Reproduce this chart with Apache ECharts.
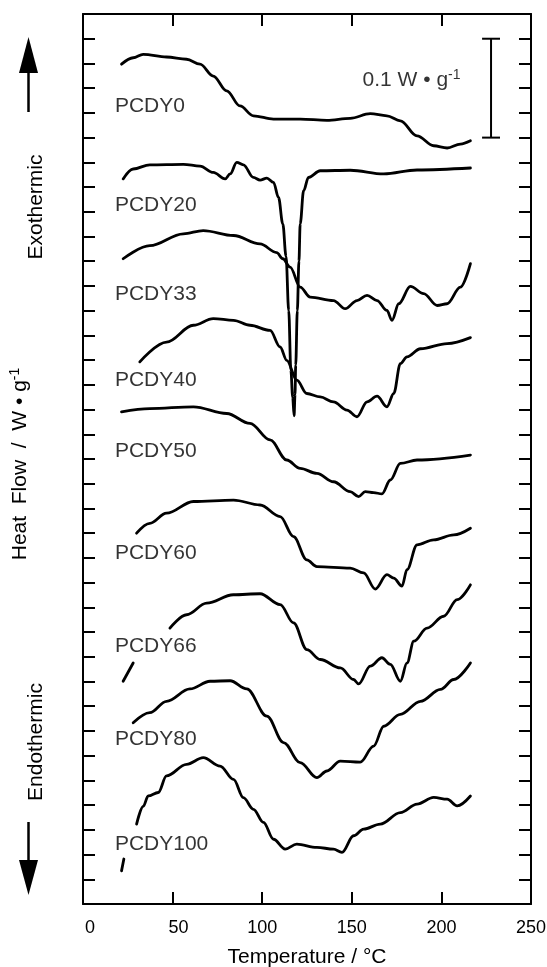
<!DOCTYPE html>
<html>
<head>
<meta charset="utf-8">
<script src="https://cdn.jsdelivr.net/npm/echarts@6/dist/echarts.min.js"></script>
<style>html,body{margin:0;padding:0;background:#fff}#c{width:547px;height:967px}</style>
</head>
<body>
<div id="c"></div>
<script>
// x ticks
const xTicks = [0, 50, 100, 150, 200, 250];
// curve names
const names = ['PCDY0','PCDY20','PCDY33','PCDY40','PCDY50','PCDY60','PCDY66','PCDY80','PCDY100'];
const labelT = [17.8,17.8,17.8,17.8,17.8,17.8,17.8,17.8,17.8];
const labelY = [32.28,28.25,24.68,21.19,18.33,14.19,10.42,6.66,2.42];

const pcdy0 = [[21.5,33.97],[28,34.23],[33.6,34.37],[46.6,34.26],[57.8,34.17],[65.3,33.97],[72.7,33.49],[80.2,32.89],[87.6,32.28],[95.1,31.88],[106.3,31.75],[121.2,31.75],[136.1,31.70],[149.1,31.78],[160.3,31.97],[169.6,31.88],[177.1,31.68],[186.4,31.07],[195.7,30.67],[203.2,30.58],[210.6,30.74],[216.2,30.87]];
const pcdy20 = [[22.4,29.33],[28,29.73],[37.3,29.9],[56,29.92],[65.3,29.85],[72.7,29.59],[79.3,29.33],[82.1,29.53],[85.8,30.0],[89.5,29.9],[95.1,29.39],[98.8,29.28],[102.6,29.36],[106.3,29.19],[109.1,28.58],[111.5,27.51],[113.3,26.2],[114.8,24.0],[116.0,21.59],[117.0,20.5],[117.8,19.75],[118.3,20.6],[118.7,21.8],[119.6,24.0],[120.5,26.0],[121.2,27.51],[123.1,28.85],[125.8,29.39],[132.4,29.66],[149.1,29.68],[167.8,29.53],[186.4,29.69],[216.2,29.77]];
const pcdy33 = [[22.4,26.10],[37.3,26.63],[56,27.11],[67.1,27.24],[84,27.04],[98.8,26.70],[108.1,26.35],[111.5,26.1],[115.6,25.76],[121.2,24.95],[126.8,24.55],[139.8,24.41],[146.3,24.08],[152.9,24.41],[158.5,24.62],[164.1,24.41],[169.6,24.01],[172.4,23.61],[176.2,24.28],[182.7,24.98],[190.1,24.69],[197.6,24.21],[203.2,24.28],[210.6,24.95],[216.2,25.90]];
const pcdy40 = [[31.7,21.93],[46.6,22.73],[61.6,23.41],[72.7,23.68],[84,23.61],[93.2,23.41],[104.4,23.20],[110,22.53],[113.7,21.99],[119.3,21.19],[124.9,20.65],[132.4,20.51],[139.8,20.31],[147.3,19.98],[152.9,19.71],[158.5,20.31],[164.1,20.54],[169.6,20.11],[173.4,20.65],[177.1,21.86],[180.8,22.13],[188.3,22.46],[203.2,22.67],[216.2,22.91]];
const pcdy50 = [[21.5,19.91],[37.3,20.04],[61.6,20.11],[80.2,19.84],[93.2,19.44],[104.4,18.77],[113.7,17.96],[121.2,17.62],[130.5,17.42],[139.8,17.08],[149.1,16.68],[153.8,16.48],[157.5,16.68],[162.2,16.64],[166.8,16.59],[171.5,17.15],[177.1,17.82],[186.4,17.96],[216.2,18.16]];
const pcdy60 = [[29.9,15.0],[37.3,15.40],[46.6,15.81],[61.6,16.28],[84,16.34],[98.8,16.14],[110,15.67],[117.5,14.86],[124.9,13.92],[130.5,13.65],[149.1,13.59],[156.6,13.39],[163.1,12.74],[169.6,13.32],[173.4,13.18],[178.0,12.86],[180.8,13.52],[186.4,14.53],[195.7,14.73],[206.9,14.93],[216.2,15.20]];
const pcdy66a = [[22.4,9.01],[28,9.75]];
const pcdy66 = [[48.5,11.16],[57.8,11.70],[69,12.17],[83.9,12.51],[98.8,12.55],[110,12.11],[117.5,11.37],[124.9,10.29],[132.4,9.89],[143.6,9.55],[151.0,9.08],[153.8,8.9],[160.3,9.62],[166.8,9.96],[171.5,9.69],[177.1,9.01],[180.8,9.75],[184.6,10.63],[192,11.16],[201.3,11.64],[208.8,12.31],[216.2,12.91]];
const pcdy80 = [[28,7.33],[37.3,7.74],[46.6,8.2],[59.7,8.7],[70.9,9.01],[82.1,9.03],[91.4,8.7],[102.6,7.60],[111.9,6.53],[121.2,5.72],[130.5,5.11],[136.1,5.38],[143.6,5.78],[154.7,5.74],[162.2,6.39],[167.8,7.19],[177.1,7.67],[188.3,8.20],[199.5,8.68],[206.9,9.08],[216.2,9.75]];
const pcdy100a = [[21.5,1.34],[22.8,1.82]];
const pcdy100 = [[29.9,3.23],[33.6,3.95],[36.4,4.37],[42.0,4.51],[46.6,5.18],[57.8,5.65],[67.1,5.92],[76.5,5.58],[84,5.04],[89.5,4.3],[95.1,3.83],[100.7,3.30],[106.3,2.62],[112.8,2.22],[119.3,2.42],[130.5,2.29],[139.8,2.22],[144.5,2.09],[151.0,2.76],[156.6,3.03],[165.9,3.23],[177.1,3.70],[186.4,4.04],[195.7,4.31],[203.2,4.24],[208.8,3.97],[216.2,4.37]];

// scale bar: 0.1 W/g = 4 y units
const scaleBarT = 227.7, scaleBarCap = 5, scaleBarLow = 31, scaleBarHigh = 35;
const scaleText = {t: 156, y: 33.32};

const FONT = 'Liberation Sans, Arial, Helvetica, sans-serif';
const chart = echarts.init(document.getElementById('c'), null, {renderer: 'canvas'});

const curves = [pcdy0, pcdy20, pcdy33, pcdy40, pcdy50, pcdy60, pcdy66a, pcdy66, pcdy80, pcdy100a, pcdy100];
const lineSeries = curves.map(d => ({
  type: 'line', data: d, showSymbol: false, symbol: 'none', smooth: 0.35, smoothMonotone: 'x',
  lineStyle: {color: '#000', width: 2.8, join: 'round', cap: 'round'}, z: 3, silent: true, animation: false
}));

const axisCommon = {
  min: 0, axisLine: {show: true, onZero: false, lineStyle: {color: '#000', width: 2}},
  axisTick: {show: true, inside: true, length: 12, lineStyle: {color: '#000', width: 2}},
  splitLine: {show: false}
};

chart.setOption({
  animation: false,
  grid: {left: 83, right: 16, top: 14, bottom: 63, containLabel: false, outerBoundsMode: 'none'},
  xAxis: [
    Object.assign({}, axisCommon, {
      type: 'value', position: 'bottom', max: 250, interval: 50,
      axisLabel: {
        show: true, margin: 15, color: '#000', fontSize: 18, fontFamily: FONT,
        formatter: v => v === 0 ? '{p0|0}' : (v === 50 ? '{p1|50}' : String(v)),
        rich: {p0: {fontSize: 18, fontFamily: FONT, padding: [0, 0, 0, 14]}, p1: {fontSize: 18, fontFamily: FONT, padding: [0, 0, 0, 12]}}
      },
      name: 'Temperature / °C', nameLocation: 'middle', nameGap: 43,
      nameTextStyle: {color: '#000', fontSize: 21, fontFamily: FONT}
    }),
    Object.assign({}, axisCommon, {
      type: 'value', position: 'top', max: 250, interval: 50, axisLabel: {show: false}
    })
  ],
  yAxis: [
    Object.assign({}, axisCommon, {type: 'value', position: 'left', max: 36, interval: 1, axisLabel: {show: false}}),
    Object.assign({}, axisCommon, {type: 'value', position: 'right', max: 36, interval: 1, axisLabel: {show: false}})
  ],
  graphic: [
    {type: 'polygon', shape: {points: [[28.5, 37], [19, 73], [38, 73]]}, style: {fill: '#000'}},
    {type: 'line', shape: {x1: 28.5, y1: 72, x2: 28.5, y2: 112}, style: {stroke: '#000', lineWidth: 2.5}},
    {type: 'polygon', shape: {points: [[19, 860], [38, 860], [28.5, 895]]}, style: {fill: '#000'}},
    {type: 'line', shape: {x1: 28.5, y1: 822, x2: 28.5, y2: 861}, style: {stroke: '#000', lineWidth: 2.5}},
    {type: 'text', x: 36, y: 207, rotation: Math.PI / 2,
      style: {text: 'Exothermic', fill: '#000', font: '21px ' + FONT, align: 'center', verticalAlign: 'middle'}},
    {type: 'text', x: 36, y: 742, rotation: Math.PI / 2,
      style: {text: 'Endothermic', fill: '#000', font: '21px ' + FONT, align: 'center', verticalAlign: 'middle'}},
    {type: 'text', x: 20, y: 464, rotation: Math.PI / 2,
      style: {text: 'Heat  Flow  /  W • g{sup|-1}', fill: '#000', fontSize: 21, fontFamily: FONT, align: 'center', verticalAlign: 'middle',
        rich: {sup: {fontSize: 14, fontFamily: FONT, fill: '#000', verticalAlign: 'top', padding: [0, 0, 10, 0]}}}}
  ],
  series: lineSeries.concat([
    {
      type: 'scatter', symbolSize: 0, silent: true, z: 4,
      data: names.map((n, i) => ({value: [labelT[i], labelY[i]], name: n})),
      label: {show: true, position: 'right', distance: 0, formatter: p => p.name, color: '#000', fontSize: 21, fontFamily: FONT}
    },
    {
      type: 'custom', silent: true, z: 4,
      data: [[scaleBarT, scaleBarLow, scaleBarHigh]],
      renderItem: (params, api) => {
        const lo = api.coord([api.value(0), api.value(1)]);
        const hi = api.coord([api.value(0), api.value(2)]);
        const capL = api.coord([api.value(0) - scaleBarCap, api.value(1)]);
        const st = {stroke: '#000', lineWidth: 2};
        const hw = lo[0] - capL[0];
        return {type: 'group', children: [
          {type: 'line', shape: {x1: lo[0], y1: lo[1], x2: hi[0], y2: hi[1]}, style: st},
          {type: 'line', shape: {x1: lo[0] - hw, y1: lo[1], x2: lo[0] + hw, y2: lo[1]}, style: st},
          {type: 'line', shape: {x1: hi[0] - hw, y1: hi[1], x2: hi[0] + hw, y2: hi[1]}, style: st}
        ]};
      }
    },
    {
      type: 'scatter', symbolSize: 0, silent: true, z: 4,
      data: [[scaleText.t, scaleText.y]],
      label: {show: true, position: 'right', distance: 0, formatter: '0.1 W • g{sup|-1}', color: '#000', fontSize: 21, fontFamily: FONT,
        rich: {sup: {fontSize: 14, fontFamily: FONT, color: '#000', verticalAlign: 'top', padding: [0, 0, 10, 0]}}}
    }
  ])
});
</script>
</body>
</html>
